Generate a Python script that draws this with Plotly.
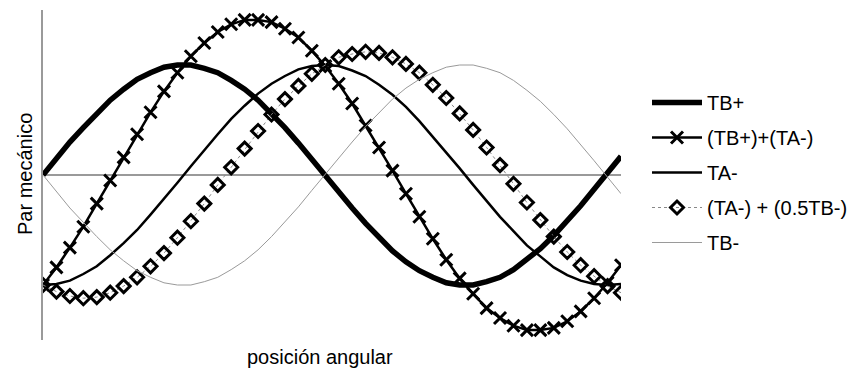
import plotly.graph_objects as go

# angular position (rad)
posicion = [round(0.15 * k, 2) for k in range(44)]

tb_pos = [0.00, 0.15, 0.30, 0.43, 0.56, 0.68, 0.78, 0.87, 0.93, 0.98, 1.00,
          1.00, 0.97, 0.93, 0.86, 0.78, 0.68, 0.56, 0.43, 0.29, 0.14, -0.01,
          -0.16, -0.30, -0.44, -0.57, -0.69, -0.79, -0.87, -0.93, -0.98, -1.00,
          -1.00, -0.97, -0.93, -0.86, -0.77, -0.67, -0.55, -0.42, -0.28, -0.13,
          0.02, 0.17]

tb_neg = [0.00, -0.15, -0.30, -0.43, -0.56, -0.68, -0.78, -0.87, -0.93, -0.98, -1.00,
          -1.00, -0.97, -0.93, -0.86, -0.78, -0.68, -0.56, -0.43, -0.29, -0.14, 0.01,
          0.16, 0.30, 0.44, 0.57, 0.69, 0.79, 0.87, 0.93, 0.98, 1.00,
          1.00, 0.97, 0.93, 0.86, 0.77, 0.67, 0.55, 0.42, 0.28, 0.13,
          -0.02, -0.17]

ta_neg = [-1.00, -0.99, -0.96, -0.90, -0.83, -0.73, -0.62, -0.50, -0.36, -0.22, -0.07,
          0.08, 0.23, 0.37, 0.51, 0.63, 0.74, 0.83, 0.90, 0.96, 0.99, 1.00,
          0.99, 0.95, 0.90, 0.82, 0.73, 0.62, 0.49, 0.35, 0.21, 0.06,
          -0.09, -0.24, -0.38, -0.51, -0.64, -0.74, -0.84, -0.91, -0.96, -0.99,
          -1.00, -0.99]

suma_tb_ta = [-1.00, -0.84, -0.66, -0.47, -0.26, -0.05, 0.16, 0.37, 0.57, 0.76, 0.93,
              1.08, 1.20, 1.30, 1.37, 1.41, 1.41, 1.39, 1.33, 1.25, 1.13, 0.99,
              0.83, 0.65, 0.45, 0.25, 0.04, -0.17, -0.38, -0.58, -0.77, -0.94,
              -1.08, -1.21, -1.30, -1.37, -1.41, -1.41, -1.39, -1.33, -1.24, -1.12,
              -0.98, -0.82]

suma_ta_half_tb = [-1.00, -1.06, -1.10, -1.12, -1.11, -1.07, -1.01, -0.93, -0.83, -0.71, -0.57,
                   -0.42, -0.26, -0.09, 0.07, 0.24, 0.40, 0.55, 0.69, 0.81, 0.92, 1.00,
                   1.07, 1.10, 1.12, 1.11, 1.07, 1.01, 0.93, 0.82, 0.70, 0.56,
                   0.41, 0.25, 0.09, -0.08, -0.25, -0.41, -0.56, -0.70, -0.82, -0.92,
                   -1.01, -1.07]

FONT = "Liberation Sans, Arial, sans-serif"

fig = go.Figure()

fig.add_trace(go.Scatter(x=posicion, y=tb_pos, name="TB+", mode="lines",
                         line=dict(color="black", width=5.5), legendgroup="a"))
fig.add_trace(go.Scatter(x=posicion, y=suma_tb_ta, name="(TB+)+(TA-)", mode="lines+markers",
                         line=dict(color="black", width=2.5),
                         marker=dict(symbol="x-thin-open", size=12, color="black",
                                     line=dict(color="black", width=3)),
                         legendgroup="b"))
fig.add_trace(go.Scatter(x=posicion, y=ta_neg, name="TA-", mode="lines",
                         line=dict(color="black", width=2.5), legendgroup="c"))
fig.add_trace(go.Scatter(x=posicion, y=suma_ta_half_tb, name="(TA-) + (0.5TB-)",
                         mode="lines+markers",
                         line=dict(color="#888888", width=1, dash="dot"),
                         marker=dict(symbol="diamond-open", size=10, color="black",
                                     line=dict(color="black", width=3)),
                         legendgroup="d"))
fig.add_trace(go.Scatter(x=posicion, y=tb_neg, name="TB-", mode="lines",
                         line=dict(color="#9a9a9a", width=1), legendgroup="e"))

fig.update_layout(
    width=853, height=373,
    margin=dict(l=43, r=232, t=10, b=33, autoexpand=False),
    paper_bgcolor="white", plot_bgcolor="white",
    font=dict(family=FONT, size=20, color="black"),
    showlegend=True,
    legend=dict(xref="container", yref="container",
                x=647 / 853, y=1 - 83 / 373, xanchor="left", yanchor="top",
                font=dict(family=FONT, size=20, color="black"),
                tracegroupgap=6, traceorder="grouped", itemwidth=50,
                bgcolor="rgba(0,0,0,0)"),
    xaxis=dict(range=[0, 6.45], showgrid=False, zeroline=False, showline=False,
               showticklabels=False, ticks=""),
    yaxis=dict(range=[-1.5, 1.5], showgrid=False, zeroline=True,
               zerolinecolor="#9a9a9a", zerolinewidth=1.5,
               showline=True, linecolor="#9a9a9a", linewidth=1.5,
               showticklabels=False, ticks=""),
    annotations=[
        dict(text="posición angular", xref="paper", yref="paper",
             x=(320 - 43) / 578, y=(340 - 357) / 330, xanchor="center", yanchor="middle",
             showarrow=False, font=dict(family=FONT, size=20)),
        dict(text="Par mecánico", xref="paper", yref="paper",
             x=(25 - 43) / 578, y=(340 - 174) / 330, xanchor="center", yanchor="middle",
             textangle=-90, showarrow=False, font=dict(family=FONT, size=20)),
    ],
)

fig.write_html("out.html")
